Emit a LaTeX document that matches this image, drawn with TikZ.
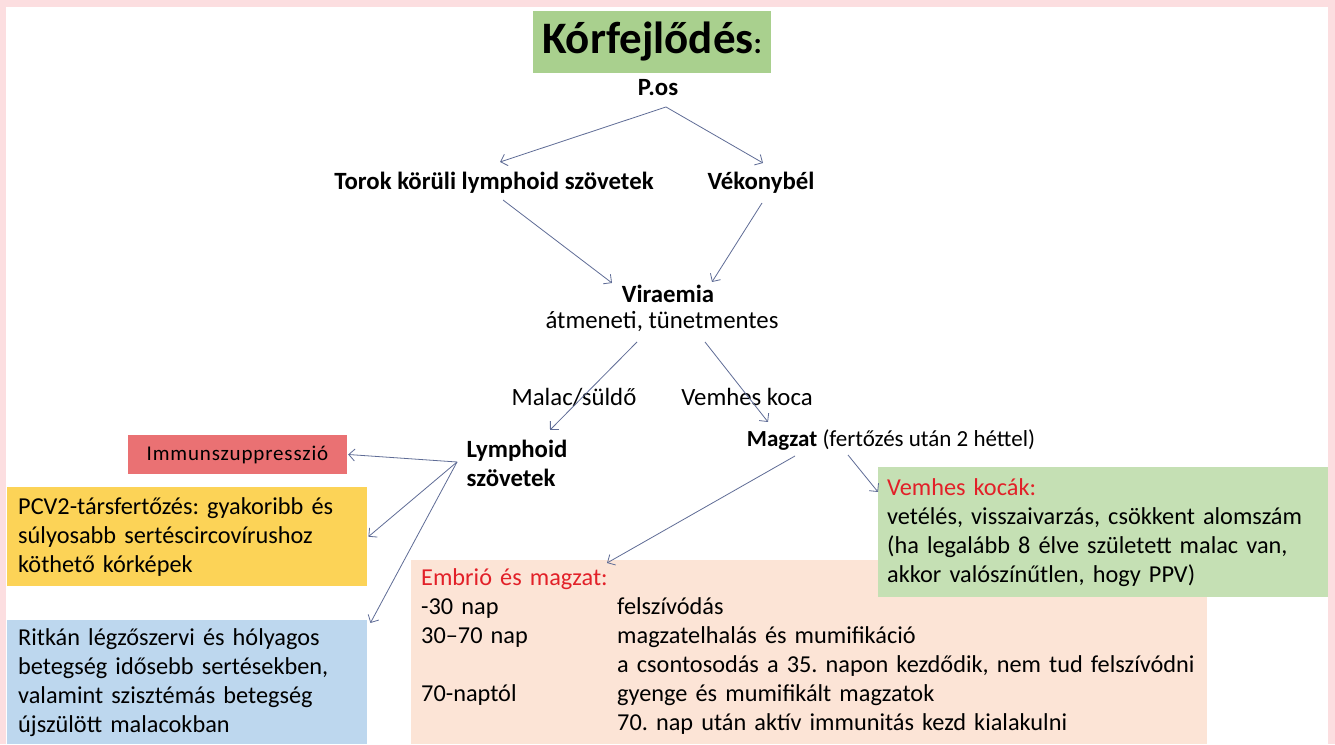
\documentclass[tikz,border=0pt]{standalone}
\usepackage{fontspec}
\setmainfont{Carlito}
\usetikzlibrary{arrows.meta}
\usetikzlibrary{positioning}
\usetikzlibrary{calc}
\definecolor{framepink}{RGB}{252,222,224}
\definecolor{titlegreen}{RGB}{169,208,142}
\definecolor{immunred}{RGB}{234,113,115}
\definecolor{pcvyellow}{RGB}{252,211,87}
\definecolor{ritkanblue}{RGB}{189,215,238}
\definecolor{embriopink}{RGB}{252,228,214}
\definecolor{kocagreen}{RGB}{197,224,180}
\definecolor{arrowcol}{RGB}{95,108,150}
\definecolor{headred}{RGB}{226,32,40}
\tikzset{flow/.style={->, draw=arrowcol, line width=0.8bp},
  txt/.style={inner sep=2bp, font=\fontsize{24.8bp}{29bp}\selectfont},
  boldtxt/.style={inner sep=2bp, font=\fontsize{24.8bp}{29bp}\selectfont\bfseries},
  infobox/.style={anchor=north west, align=left, inner ysep=0pt, inner xsep=11bp, font=\fontsize{24.3bp}{29bp}\selectfont}}
\frenchspacing

\begin{document}
\begin{tikzpicture}[>={Straight Barb[length=6bp,width=12bp]},line join=bevel,]
%%
\fill [framepink] (0bp,0bp) rectangle (1335bp,744bp);
\fill [white] (6bp,0bp) rectangle (1328bp,737bp);
\node (title) at (652.0bp,702.0bp) [fill=titlegreen,minimum width=238bp,minimum height=62bp,inner sep=0pt] {\fontsize{45bp}{48bp}\selectfont\bfseries Kórfejlődés\fontsize{30bp}{32bp}\selectfont:};
  \node (pos) at (658.0bp,656.0bp) [boldtxt] {P.os};
  \node (torok) at (494.0bp,561.0bp) [boldtxt] {Torok körüli lymphoid szövetek};
  \node (vekony) at (761.0bp,561.0bp) [boldtxt] {Vékonybél};
  \node (viraemia) at (668.0bp,450.0bp) [boldtxt] {Viraemia};
  \node (atmeneti) at (662.0bp,422.0bp) [txt] {átmeneti, tünetmentes};
  \node (malac) at (574.0bp,347.0bp) [txt] {Malac/süldő};
  \node (vemheskoca) at (747.0bp,347.0bp) [txt] {Vemhes koca};
  \node (lymph) at (517.0bp,281.0bp) [boldtxt,align=left] {Lymphoid\\szövetek};
  \node (magzat) at (891.0bp,304.0bp) [txt,font=\fontsize{23bp}{29bp}\selectfont] {\textbf{Magzat} (fertőzés után 2 héttel)};
  \node (immun) at (237.5bp,289.5bp) [fill=immunred,minimum width=219bp,minimum height=39bp,inner sep=0pt,font=\fontsize{21bp}{24bp}\selectfont\addfontfeature{LetterSpace=4}] {Immunszuppresszió};
  \node (pcv) at (7.0bp,257.0bp) [infobox,fill=pcvyellow,text width=338bp,minimum height=99bp] {PCV2-társfertőzés: gyakoribb és\\súlyosabb sertéscircovírushoz\\köthető kórképek};
  \node (ritkan) at (7.0bp,124.0bp) [infobox,fill=ritkanblue,text width=338bp,minimum height=124bp] {Ritkán légzőszervi és hólyagos\\betegség idősebb sertésekben,\\valamint szisztémás betegség\\újszülött malacokban};
  \node (embrio) at (411.0bp,184.0bp) [infobox,fill=embriopink,inner xsep=10bp,text width=776bp,minimum height=184bp] {\begin{tabular}{@{}p{196bp}@{}l@{}}
    \multicolumn{2}{@{}l@{}}{\color{headred}Embrió és magzat:}\\
    -30 nap & felszívódás\\
    30--70 nap & magzatelhalás és mumifikáció\\
     & a csontosodás a 35. napon kezdődik, nem tud felszívódni\\
    70-naptól & gyenge és mumifikált magzatok\\
     & 70. nap után aktív immunitás kezd kialakulni
  \end{tabular}};
  \node (vemhes) at (878.0bp,277.0bp) [infobox,fill=kocagreen,inner xsep=9bp,text width=432bp,minimum height=130bp] {{\color{headred}Vemhes kocák:}\\vetélés, visszaivarzás, csökkent alomszám\\(ha legalább 8 élve született malac van,\\akkor valószínűtlen, hogy PPV)};
  \draw [flow] ($(pos)+(8bp,-19bp)$) -- ($(torok)+(6bp,21bp)$);
  \draw [flow] ($(pos)+(8bp,-19bp)$) -- ($(vekony)+(2bp,20bp)$);
  \draw [flow] ($(torok)+(9bp,-17bp)$) -- ($(viraemia)+(-56bp,11bp)$);
  \draw [flow] ($(vekony)+(1bp,-20bp)$) -- ($(viraemia)+(44bp,12bp)$);
  \draw [flow] ($(atmeneti)+(-25bp,-20bp)$) -- ($(lymph)+(33bp,33bp)$);
  \draw [flow] ($(atmeneti)+(43bp,-20bp)$) -- ($(magzat)+(-123bp,18bp)$);
  \draw [flow] ($(lymph)+(-60bp,1bp)$) -- ($(immun.east)+(1bp,0bp)$);
  \draw [flow] ($(lymph)+(-60bp,1bp)$) -- ($(pcv.east)+(1bp,0bp)$);
  \draw [flow] ($(lymph)+(-60bp,1bp)$) -- ($(ritkan.north east)+(3bp,-3bp)$);
  \draw [flow] ($(magzat)+(-96bp,-16bp)$) -- ($(embrio.north west)+(196bp,-3bp)$);
  \draw [flow] ($(magzat)+(-43bp,-15bp)$) -- ($(vemhes.north west)+(0bp,-25bp)$);
%
\end{tikzpicture}
\end{document}
